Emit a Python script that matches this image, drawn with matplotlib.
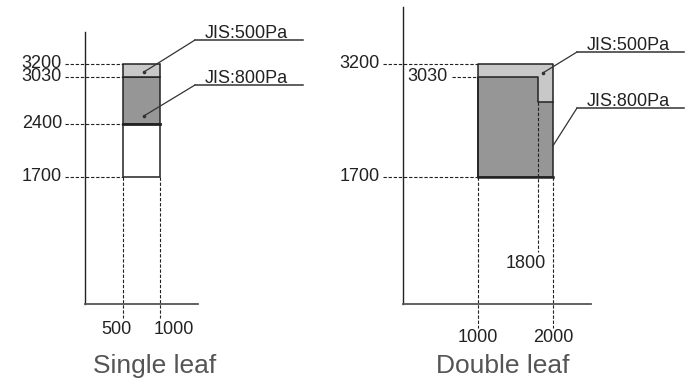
import numpy as np
import matplotlib
matplotlib.use("Agg")
import matplotlib.pyplot as plt
import matplotlib.transforms as mtransforms
from matplotlib.lines import Line2D
from matplotlib.patches import ConnectionPatch

# Single leaf: door width range and height levels
single_x = [500, 1000]
single_levels = [1700, 2400, 3030, 3200]
# Double leaf: width steps and height levels
double_x = [1000, 1800, 2000]
double_levels = [1700, 2700, 3030, 3200]

labels = ["JIS:500Pa", "JIS:800Pa"]
titles = ["Single leaf", "Double leaf"]

W, H = 694, 390
light = "#c8c8c8"
dark = "#969696"
ink = "#222222"
dash = (0, (3, 1.6))

plt.rcParams["font.family"] = ["Liberation Sans", "DejaVu Sans"]
fig = plt.figure(figsize=(W / 100, H / 100), dpi=100)
px = mtransforms.Affine2D().scale(1, -1).translate(0, H)  # top-left pixel coords


def make_axes(x0, y_base, xmax, ymax, scale=0.075):
    w = xmax * scale
    h = ymax * scale
    ax = fig.add_axes([x0 / W, (H - y_base) / H, w / W, h / H])
    ax.set_xlim(0, xmax)
    ax.set_ylim(0, ymax)
    ax.set_xticks([])
    ax.set_yticks([])
    for s in ["top", "right"]:
        ax.spines[s].set_visible(False)
    ax.spines["left"].set_color(ink)
    ax.spines["left"].set_linewidth(1.0)
    ax.spines["bottom"].set_color("#555555")
    ax.spines["bottom"].set_linewidth(1.3)
    ax.patch.set_alpha(0)
    return ax


def ylabel(ax, y, text, dx=-23, line_from=-20, x_to=None, **kw):
    ax.annotate(text, xy=(0, y), xytext=(dx, 0), textcoords="offset pixels",
                ha="right", va="center", fontsize=13, color=ink,
                annotation_clip=False, **kw)
    x0 = ax.transData.inverted().transform(
        ax.transData.transform((0, y)) + np.array([line_from, 0]))[0]
    ax.plot([x0, x_to], [y, y], ls=dash, lw=0.8, color=ink, clip_on=False)


def callout(ax, point, x1, x2, yline, text, dot=True):
    fig.add_artist(Line2D([x1, x2], [yline, yline], transform=px,
                          color="#333333", lw=1.1))
    fig.text(x1 + 10, yline - 2, text, transform=px, ha="left",
             va="baseline", fontsize=13, color=ink)
    con = ConnectionPatch(xyA=point, coordsA=ax.transData,
                          xyB=(x1, yline), coordsB=px,
                          color="#333333", lw=0.9)
    fig.add_artist(con)
    if dot:
        ax.plot(*point, "o", ms=1.6, color="#333333", clip_on=False)


# ---------------- Single leaf ----------------
ax1 = make_axes(85, 304, 1513, 3633)
a, b = single_x
lv = single_levels
ax1.bar(a, lv[1] - lv[0], width=b - a, bottom=lv[0], align="edge",
        color="white", edgecolor=ink, lw=1.1)
ax1.bar(a, lv[2] - lv[1], width=b - a, bottom=lv[1], align="edge",
        color=dark, edgecolor=ink, lw=1.1)
ax1.bar(a, lv[3] - lv[2], width=b - a, bottom=lv[2], align="edge",
        color=light, edgecolor=ink, lw=1.1)
ax1.plot([a, b], [lv[1], lv[1]], color=ink, lw=2.0)
for y in lv:
    ylabel(ax1, y, f"{y}", x_to=a)
for x in single_x:
    ax1.plot([x, x], [lv[0], -190], ls=dash, lw=0.8, color=ink, clip_on=False)
ax1.annotate(f"{a}", xy=(a, 0), xytext=(-6, -26), textcoords="offset pixels",
             ha="center", va="center", fontsize=13, color=ink, annotation_clip=False)
ax1.annotate(f"{b}", xy=(b, 0), xytext=(14, -26), textcoords="offset pixels",
             ha="center", va="center", fontsize=13, color=ink, annotation_clip=False)
fig.text(155, 366, titles[0], transform=px, ha="center", va="center",
         fontsize=19, color="#555555")
callout(ax1, (a + 0.57 * (b - a), lv[2] + 0.37 * (lv[3] - lv[2])),
        195, 303, 40, labels[0])
callout(ax1, (a + 0.57 * (b - a), lv[1] + 0.17 * (lv[2] - lv[1])),
        195, 303, 85, labels[1])

# ---------------- Double leaf ----------------
ax2 = make_axes(403, 304, 2507, 3960)
c, d, e = double_x
dv = double_levels
ax2.bar(c, dv[3] - dv[0], width=e - c, bottom=dv[0], align="edge",
        color=light, edgecolor="none")
ax2.fill_between(double_x, dv[0], [dv[2], dv[1], dv[1]], step="post",
                 color=dark, lw=0)
ax2.plot([c, c, d, d, e], [dv[0], dv[2], dv[2], dv[1], dv[1]],
         color=ink, lw=1.1)
ax2.plot([c, e, e, c, c], [dv[0], dv[0], dv[3], dv[3], dv[0]],
         color=ink, lw=1.1)
ax2.plot([c, e], [dv[0], dv[0]], color=ink, lw=1.8)
ylabel(ax2, dv[3], f"{dv[3]}", x_to=c)
ylabel(ax2, dv[0], f"{dv[0]}", x_to=c)
ylabel(ax2, dv[2], f"{dv[2]}", dx=45, line_from=49, x_to=c)
for x in [c, e]:
    ax2.plot([x, x], [dv[0], -320], ls=dash, lw=0.8, color=ink, clip_on=False)
    ax2.annotate(f"{x}", xy=(x, 0), xytext=(0, -34), textcoords="offset pixels",
                 ha="center", va="center", fontsize=13, color=ink,
                 annotation_clip=False)
ax2.plot([d, d], [dv[1], 690], ls=dash, lw=0.8, color=ink)
ax2.annotate(f"{d}", xy=(d, 0), xytext=(-12, 41), textcoords="offset pixels",
             ha="center", va="center", fontsize=13, color=ink)
fig.text(503, 366, titles[1], transform=px, ha="center", va="center",
         fontsize=19, color="#555555")
callout(ax2, (d + 0.33 * (e - d), dv[2] + 0.3 * (dv[3] - dv[2])),
        577, 684, 52, labels[0])
callout(ax2, (e, dv[0] + 0.41 * (dv[1] - dv[0])),
        577, 684, 108, labels[1], dot=False)

fig.savefig("out.png", dpi=100, facecolor="white")
